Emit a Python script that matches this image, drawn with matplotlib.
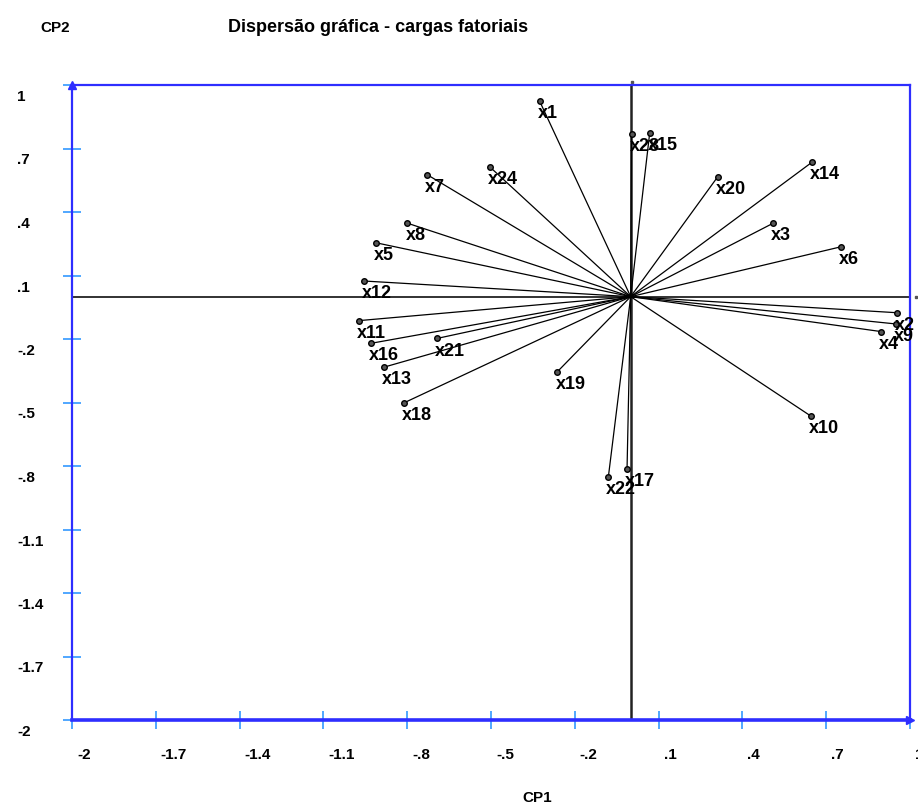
import matplotlib
matplotlib.use('Agg')
import matplotlib.pyplot as plt
import matplotlib.transforms as mtrans

plt.rcParams['font.family'] = ['Liberation Sans', 'DejaVu Sans']

# factor loadings (CP1, CP2)
names = ['x1', 'x2', 'x3', 'x4', 'x5', 'x6', 'x7', 'x8', 'x9', 'x10', 'x11', 'x12',
         'x13', 'x14', 'x15', 'x16', 'x17', 'x18', 'x19', 'x20', 'x21', 'x22', 'x24', 'x28']
cp1 = [-0.326, 0.955, 0.510, 0.897, -0.913, 0.754, -0.728, -0.799, 0.950, 0.645, -0.971, -0.955,
       -0.883, 0.650, 0.068, -0.928, -0.013, -0.812, -0.262, 0.312, -0.692, -0.080, -0.505, 0.003]
cp2 = [0.924, -0.076, 0.347, -0.165, 0.255, 0.236, 0.576, 0.347, -0.129, -0.564, -0.113, 0.074,
       -0.333, 0.636, 0.772, -0.220, -0.815, -0.502, -0.354, 0.567, -0.197, -0.853, 0.614, 0.769]

ticks = [-2, -1.7, -1.4, -1.1, -0.8, -0.5, -0.2, 0.1, 0.4, 0.7, 1]
tick_lbls = ['-2', '-1.7', '-1.4', '-1.1', '-.8', '-.5', '-.2', '.1', '.4', '.7', '1']

W, H, DPI = 918, 806, 100
fig = plt.figure(figsize=(W / DPI, H / DPI), dpi=DPI)
ax = fig.add_axes([72 / W, 1 - 720 / H, 838 / W, 635 / H])
ax.set_xlim(-2, 1)
ax.set_ylim(-2, 1)

blue = '#2E2EFF'
tickc = '#2090FF'
for s in ['top', 'right', 'left']:
    ax.spines[s].set_color(blue)
    ax.spines[s].set_linewidth(1.6)
ax.spines['bottom'].set_color(blue)
ax.spines['bottom'].set_linewidth(2.6)

ax.set_xticks(ticks)
ax.set_yticks(ticks)
ax.set_xticklabels([])
ax.set_yticklabels([])
ax.tick_params(direction='inout', length=13, width=1.1, color=tickc,
               top=False, right=False)

# cross axes through origin
ax.plot([-2, 1], [0, 0], color='#222222', lw=1.3, zorder=2)
ax.plot([0, 0], [-2, 1], color='#222222', lw=1.8, zorder=2)
ax.plot([1.022], [0], 's', ms=1.5, color='#555555', clip_on=False)
ax.plot([0.003], [1.015], 's', ms=1.5, color='#555555', clip_on=False)

# arrow heads at the axis ends
ax.plot([-2], [1.0], '^', ms=6, color=blue, clip_on=False, zorder=5)
ax.plot([1.0], [-2], '>', ms=6, color=blue, clip_on=False, zorder=5)

# loading vectors
for n, x, y in zip(names, cp1, cp2):
    ax.plot([0, x], [0, y], color='black', lw=0.9, zorder=3)
    ax.plot([x], [y], 'o', ms=4, mfc='#555555', mec='black', mew=1, zorder=4)
    ax.annotate(n, (x, y), xytext=(-1.5, -3), textcoords='offset points',
                ha='left', va='top', fontsize=13, fontweight='bold',
                annotation_clip=False, zorder=6)

# tick labels, offset like the original
ytr = mtrans.offset_copy(mtrans.blended_transform_factory(fig.transFigure, ax.transData),
                         fig=fig, y=-12, units='dots')
for v, l in zip(ticks, tick_lbls):
    fig.text(17 / W, v, l, transform=ytr, ha='left', va='center',
             fontsize=11, fontweight='bold')
xtr = mtrans.offset_copy(mtrans.blended_transform_factory(ax.transData, fig.transFigure),
                         fig=fig, x=5, units='dots')
for v, l in zip(ticks, tick_lbls):
    fig.text(v, 1 - 755 / H, l, transform=xtr, ha='left', va='center',
             fontsize=11, fontweight='bold')

fig.text(55 / W, 1 - 28 / H, 'CP2', ha='center', va='center', fontsize=11, fontweight='bold')
fig.text(378 / W, 1 - 28 / H, 'Dispersão gráfica - cargas fatoriais', ha='center',
         va='center', fontsize=13, fontweight='bold')
fig.text(537 / W, 1 - 798 / H, 'CP1', ha='center', va='center', fontsize=11, fontweight='bold')

fig.savefig('out.png', dpi=DPI)
